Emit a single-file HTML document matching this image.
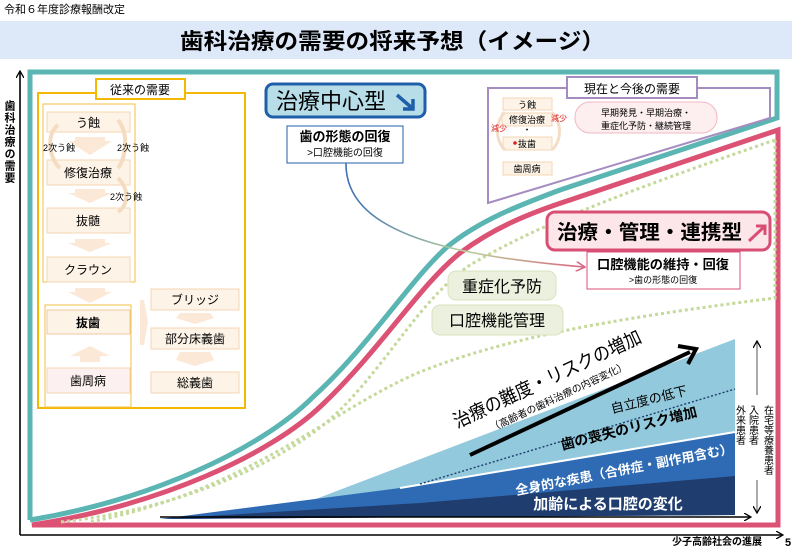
<!DOCTYPE html>
<html><head><meta charset="utf-8"><style>
html,body{margin:0;padding:0;background:#fff;}
svg{display:block;font-family:"Liberation Sans","Noto Sans CJK JP",sans-serif;}
</style></head><body>
<svg width="792" height="547" viewBox="0 0 792 547" xmlns="http://www.w3.org/2000/svg">
<defs>
<marker id="ah" markerWidth="8" markerHeight="8" refX="6" refY="4" orient="auto" markerUnits="userSpaceOnUse"><path d="M0,0 L7,4 L0,8" fill="none" stroke="#000" stroke-width="1.3"/></marker>
<marker id="ahp" markerWidth="10" markerHeight="10" refX="8" refY="5" orient="auto" markerUnits="userSpaceOnUse"><path d="M0,0 L9,5 L0,10" fill="none" stroke="#d96680" stroke-width="1.5"/></marker>
<linearGradient id="cg" x1="0" y1="0" x2="1" y2="0"><stop offset="0" stop-color="#3f6fb5"/><stop offset="0.5" stop-color="#b9d39a"/><stop offset="1" stop-color="#d96680"/></linearGradient>
</defs>
<text x="4" y="13" font-size="11">令和６年度診療報酬改定</text>
<rect x="0" y="21" width="792" height="38" fill="#dde8f8"/>
<text x="180" y="49" font-size="22" font-weight="bold" textLength="425" lengthAdjust="spacingAndGlyphs">歯科治療の需要の将来予想（イメージ）</text>

<!-- axes -->
<line x1="20" y1="535" x2="20" y2="72" stroke="#000" stroke-width="1.6" marker-end="url(#ah)"/>
<line x1="20" y1="535" x2="782" y2="535" stroke="#000" stroke-width="1.6" marker-end="url(#ah)"/>
<text x="9" y="100" font-size="11" font-weight="bold" writing-mode="tb" letter-spacing="1">歯科治療の需要</text>
<text x="762" y="545" font-size="10" font-weight="bold" text-anchor="end">少子高齢社会の進展</text>
<text x="785" y="546" font-size="11" font-weight="bold">5</text>

<!-- bottom wedge -->
<polygon points="300,505 735,339 735,515 300,515" fill="#92c9dc"/>
<polygon points="160,519 400,488 735,432 735,515" fill="#2f6bb4"/>
<polygon points="160,519 420,503 735,476 735,515" fill="#1f3d6e"/>
<line x1="400" y1="488" x2="735" y2="432" stroke="#fff" stroke-width="2"/>
<line x1="420" y1="484" x2="735" y2="389" stroke="#1f3d6e" stroke-width="1.4" stroke-dasharray="2,2"/>
<line x1="470" y1="455" x2="690" y2="352" stroke="#000" stroke-width="4"/>
<path d="M678,346 L696,349 L688,364" fill="none" stroke="#000" stroke-width="4"/>
<text transform="translate(550,385) rotate(-25)" font-size="19" text-anchor="middle" textLength="205" lengthAdjust="spacingAndGlyphs">治療の難度・リスクの増加</text>
<text transform="translate(560,400) rotate(-25)" font-size="10" text-anchor="middle">（高齢者の歯科治療の内容変化）</text>
<text transform="translate(650,404) rotate(-14)" font-size="13" text-anchor="middle">自立度の低下</text>
<text transform="translate(630,433) rotate(-14)" font-size="14" font-weight="bold" text-anchor="middle">歯の喪失のリスク増加</text>
<text transform="translate(625,474) rotate(-11)" font-size="13" font-weight="bold" fill="#fff" text-anchor="middle">全身的な疾患（合併症・副作用含む）</text>
<text x="608" y="509" font-size="15" font-weight="bold" fill="#fff" text-anchor="middle">加齢による口腔の変化</text>
<line x1="160" y1="517" x2="750" y2="517" stroke="#000" stroke-width="1.4" marker-end="url(#ah)"/>
<line x1="757" y1="395" x2="757" y2="342" stroke="#555" stroke-width="1" marker-end="url(#ah)"/>
<line x1="757" y1="480" x2="757" y2="512" stroke="#555" stroke-width="1" marker-end="url(#ah)"/>
<text x="739" y="405" font-size="10" writing-mode="tb">外来患者</text>
<text x="752" y="405" font-size="10" writing-mode="tb">入院患者</text>
<text x="767" y="405" font-size="10" writing-mode="tb">在宅等療養患者</text>

<!-- curves -->
<path d="M30,520 L30,72 L777,72 L777,118 L560,190 C520,205 480,220 447,247 C410,280 370,345 313,397 C260,450 150,500 30,520" fill="none" stroke="#5bb5b2" stroke-width="5"/>
<path d="M778,130 L570,200 C530,213 495,227 460,253 C420,285 380,350 322,405 C270,455 160,505 32,525 L778,525 Z" fill="none" stroke="#dc5274" stroke-width="5"/>
<path d="M775,140 C600,200 530,230 470,265 C420,300 390,360 340,410 C290,460 180,510 60,522" fill="none" stroke="#c4d99a" stroke-width="3" stroke-dasharray="3,3"/>
<path d="M775,140 L775,298 C600,320 500,340 420,372 C330,410 250,490 90,522" fill="none" stroke="#c4d99a" stroke-width="3" stroke-dasharray="3,3"/>

<!-- left box -->
<rect x="38" y="93" width="207" height="315" fill="none" stroke="#f5b800" stroke-width="2"/>
<rect x="96" y="79" width="89" height="20" fill="#fff" stroke="#f5b800" stroke-width="2"/>
<text x="140" y="94" font-size="12" text-anchor="middle">従来の需要</text>
<rect x="43" y="104" width="92" height="178" fill="none" stroke="#f5c242" stroke-width="1"/>
<rect x="45" y="305" width="86" height="102" fill="none" stroke="#f5c242" stroke-width="1"/>
<g fill="#fdf3e7" stroke="#f5d6b5" stroke-width="1">
<rect x="47" y="112" width="83" height="20"/>
<rect x="47" y="160" width="83" height="25"/>
<rect x="47" y="208" width="83" height="25"/>
<rect x="47" y="257" width="83" height="25"/>
<rect x="47" y="310" width="83" height="24" stroke="#f0c8a0"/>
<rect x="47" y="368" width="83" height="25" fill="#fdf0f0"/>
<rect x="151" y="289" width="88" height="21"/>
<rect x="151" y="328" width="88" height="21"/>
<rect x="151" y="372" width="88" height="21"/>
</g>
<g fill="#fbe8d6">
<polygon points="75,137 105,137 105,141 112,141 90,155 68,141 75,141"/>
<polygon points="75,189 105,189 105,193 112,193 90,203 68,193 75,193"/>
<polygon points="75,239 105,239 105,243 112,243 90,252 68,243 75,243"/>
<polygon points="75,288 105,288 105,292 112,292 90,303 68,292 75,292"/>
<polygon points="80,362 100,362 100,356 110,356 90,346 70,356 80,356"/>
<polygon points="140,300 144,300 148,322 144,345 140,345"/>
<polygon points="180,313 210,313 214,318 195,324 176,318"/>
<polygon points="180,352 210,352 214,360 195,366 176,360"/>
</g>
<g fill="none" stroke="#f5dcc0" stroke-width="4">
<path d="M58,125 C45,135 50,160 60,168"/>
<path d="M118,120 C130,135 125,160 118,168"/>
<path d="M118,178 C130,190 128,205 118,212"/>
</g>
<g font-size="12" text-anchor="middle">
<text x="88" y="127">う蝕</text>
<text x="88" y="177">修復治療</text>
<text x="88" y="225">抜髄</text>
<text x="88" y="274">クラウン</text>
<text x="88" y="327" font-weight="bold">抜歯</text>
<text x="88" y="385">歯周病</text>
<text x="195" y="304">ブリッジ</text>
<text x="195" y="343">部分床義歯</text>
<text x="195" y="387">総義歯</text>
</g>
<g font-size="9">
<text x="43" y="151">2次う蝕</text>
<text x="117" y="151">2次う蝕</text>
<text x="110" y="200">2次う蝕</text>
</g>

<!-- 治療中心型 -->
<rect x="266" y="84" width="159" height="33" rx="7" fill="#b7dde8" stroke="#1f5fa8" stroke-width="3"/>
<text x="276" y="109" font-size="22">治療中心型</text>
<path d="M397,95 L412,108 M403,109 L413,109 L413,99" fill="none" stroke="#1f5fa8" stroke-width="3.5"/>
<rect x="287" y="126" width="116" height="37" fill="#fff" stroke="#1f5fa8" stroke-width="1"/>
<text x="345" y="141" font-size="13" font-weight="bold" text-anchor="middle">歯の形態の回復</text>
<text x="345" y="156" font-size="10" text-anchor="middle">&gt;口腔機能の回復</text>
<path d="M346,163 C345,230 440,255 584,267" fill="none" stroke="url(#cg)" stroke-width="1.6" marker-end="url(#ahp)"/>

<!-- 現在と今後の需要 -->
<path d="M488,88 L770,88 L770,118 L488,203 Z" fill="#fff" stroke="#a58cc0" stroke-width="2"/>
<rect x="567" y="77" width="130" height="21" fill="#fff" stroke="#a58cc0" stroke-width="2"/>
<text x="632" y="93" font-size="12" text-anchor="middle">現在と今後の需要</text>
<g fill="#fdf3e7" stroke="#f5d6b5">
<rect x="503" y="98" width="49" height="12"/>
<rect x="502" y="113" width="50" height="13"/>
<rect x="503" y="137" width="49" height="13"/>
<rect x="503" y="162" width="49" height="13"/>
</g>
<path d="M505,112 C495,122 495,140 505,150 M552,112 C562,122 562,140 552,150" fill="none" stroke="#f3ddc7" stroke-width="3"/>
<g font-size="9" text-anchor="middle">
<text x="527" y="108">う蝕</text>
<text x="527" y="123">修復治療</text>
<text x="527" y="147">抜歯</text>
<text x="527" y="172">歯周病</text>
</g>
<text x="527" y="133" font-size="9" text-anchor="middle">・</text>
<text x="491" y="131" font-size="8" fill="#e02020">減少</text>
<text x="551" y="121" font-size="8" fill="#e02020">減少</text>
<circle cx="515" cy="143" r="1.8" fill="#e02020"/>
<rect x="575" y="102" width="142" height="31" rx="15" fill="#fdeef0" stroke="#f0b8c4"/>
<text x="646" y="116" font-size="9" text-anchor="middle">早期発見・早期治療・</text>
<text x="646" y="129" font-size="9" text-anchor="middle">重症化予防・継続管理</text>

<!-- 治療・管理・連携型 -->
<rect x="547" y="212" width="223" height="38" rx="8" fill="#fde6ea" stroke="#d94f74" stroke-width="3"/>
<text x="557" y="239" font-size="20" font-weight="bold" textLength="185" lengthAdjust="spacingAndGlyphs">治療・管理・連携型</text>
<path d="M749,241 L764,227 M756,226 L765,226 L765,235" fill="none" stroke="#d94f74" stroke-width="3"/>
<rect x="587" y="252" width="153" height="37" fill="#fff" stroke="#d94f74" stroke-width="1"/>
<text x="663" y="269" font-size="13" font-weight="bold" text-anchor="middle" textLength="132" lengthAdjust="spacingAndGlyphs">口腔機能の維持・回復</text>
<text x="663" y="283" font-size="9" text-anchor="middle">&gt;歯の形態の回復</text>

<rect x="448" y="271" width="108" height="29" rx="8" fill="#ebf1de" stroke="#d7e4bd"/>
<text x="502" y="292" font-size="16" text-anchor="middle">重症化予防</text>
<rect x="432" y="305" width="131" height="30" rx="8" fill="#ebf1de" stroke="#d7e4bd"/>
<text x="497" y="326" font-size="16" text-anchor="middle">口腔機能管理</text>
</svg>
</body></html>
